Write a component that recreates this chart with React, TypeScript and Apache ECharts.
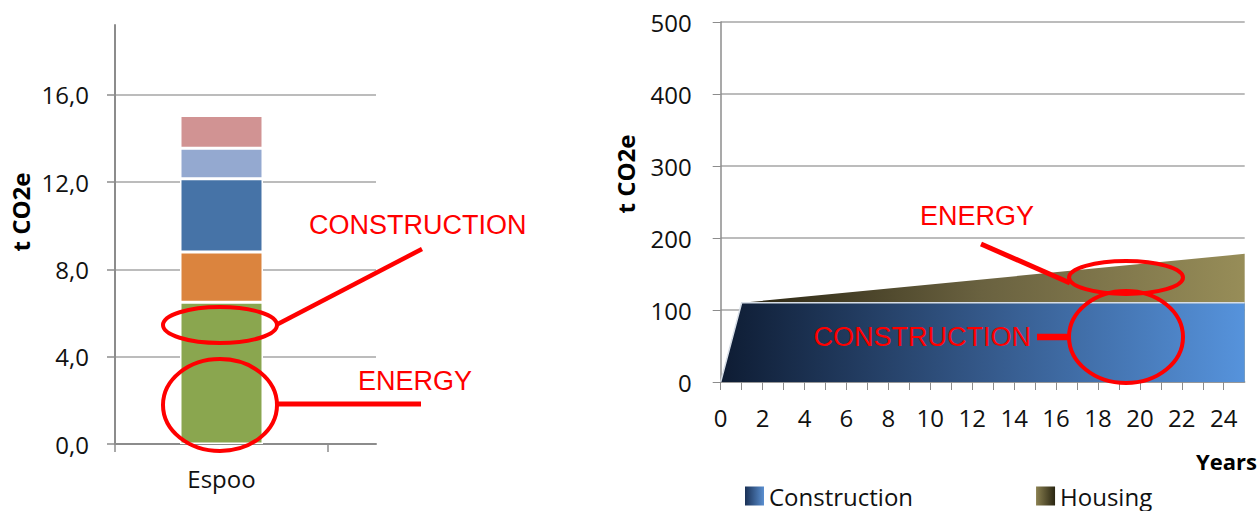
import React, { useEffect, useRef } from 'react';
import * as echarts from 'echarts';

// ---- Left chart data (stacked bar) ----
const barCategories = ['Espoo'];
const barSeriesNames = ['Energy', 'Part 2', 'Part 3', 'Part 4', 'Part 5'];
const barValues = [6.5, 2.3, 3.35, 1.4, 1.5];
const barColors = ['#8aa64f', '#db843e', '#4673a7', '#94a9d0', '#d19393'];
const leftTickValues = [0, 4, 8, 12, 16];

// ---- Right chart data (stacked area) ----
const years = [0, 1, 25];
const constructionValues = [0, 110, 110];
const housingValues = [0, 0, 68];
const rightLegend = ['Construction', 'Housing'];

const FONT = '"Open Sans", sans-serif';
const RED = '#ff0000';
const AXIS = '#8c8c8c';
const GRID = '#a6a6a6';

export default function App() {
  const ref = useRef<HTMLDivElement>(null);

  useEffect(() => {
    if (!ref.current) return;
    const chart = echarts.init(ref.current, undefined, { renderer: 'svg' });

    const constructionGrad = new echarts.graphic.LinearGradient(0, 0, 1, 0, [
      { offset: 0, color: '#0e1c33' },
      { offset: 0.5, color: '#345889' },
      { offset: 1, color: '#5693dc' },
    ]);
    const housingGrad = new echarts.graphic.LinearGradient(0, 0, 1, 0, [
      { offset: 0, color: '#241f0e' },
      { offset: 0.5, color: '#6a6240' },
      { offset: 1, color: '#978d58' },
    ]);
    const legendConstr = new echarts.graphic.LinearGradient(0, 0, 1, 0, [
      { offset: 0, color: '#1a3156' },
      { offset: 1, color: '#5a8fd0' },
    ]);
    const legendHousing = new echarts.graphic.LinearGradient(0, 0, 1, 0, [
      { offset: 0, color: '#8a8050' },
      { offset: 1, color: '#2a2612' },
    ]);

    const labelStyle = { fontFamily: FONT, fontSize: 24, color: '#111' };

    const barSeries = barValues.map((v, i) => ({
      name: barSeriesNames[i],
      type: 'bar',
      xAxisIndex: 0,
      yAxisIndex: 0,
      stack: 'total',
      barWidth: 83,
      data: [v],
      itemStyle: { color: barColors[i], borderColor: '#ffffff', borderWidth: 1.5 },
    }));

    // cumulative top of the housing band (housing stacked on construction)
    const housingTop = years.map((y, i) => [y, constructionValues[i] + housingValues[i]]);

    const option: any = {
      animation: false,
      backgroundColor: '#ffffff',
      grid: [
        { left: 115, top: 25, width: 213, height: 419 },
        { left: 328, top: 25, width: 48, height: 419 },
        { left: 720.7, top: 22, width: 524, height: 360 },
      ],
      legend: {
        data: [
          { name: rightLegend[0], itemStyle: { color: legendConstr } },
          { name: rightLegend[1], itemStyle: { color: legendHousing } },
        ],
        icon: 'rect',
        itemWidth: 19,
        itemHeight: 19,
        itemGap: 123,
        left: 745,
        top: 484,
        padding: 0,
        textStyle: { fontFamily: FONT, fontSize: 24, color: '#111' },
      },
      xAxis: [
        {
          type: 'category',
          gridIndex: 0,
          data: barCategories,
          axisLine: { show: true, lineStyle: { color: AXIS, width: 2 } },
          axisTick: { show: true, length: 8, lineStyle: { color: AXIS, width: 1.5 } },
          axisLabel: { ...labelStyle, margin: 22 },
        },
        {
          type: 'category',
          gridIndex: 1,
          data: [''],
          axisLine: { show: true, lineStyle: { color: AXIS, width: 2 } },
          axisTick: { show: false },
          axisLabel: { show: false },
        },
        {
          type: 'value',
          gridIndex: 2,
          min: 0,
          max: 25,
          interval: 1,
          axisLine: { show: true, lineStyle: { color: AXIS, width: 1.5 } },
          axisTick: { show: true, length: 8, lineStyle: { color: AXIS, width: 1 } },
          splitLine: { show: false },
          axisLabel: {
            ...labelStyle,
            margin: 23,
            showMaxLabel: false,
            formatter: (v: number) => (v % 2 === 0 ? String(v) : ''),
          },
        },
      ],
      yAxis: [
        {
          type: 'value',
          gridIndex: 0,
          min: 0,
          max: 19.2,
          interval: 4,
          axisLine: { show: true, lineStyle: { color: AXIS, width: 2 } },
          axisTick: { show: true, length: 8, customValues: leftTickValues, lineStyle: { color: AXIS, width: 1.5 } },
          axisLabel: {
            ...labelStyle,
            margin: 26,
            customValues: leftTickValues,
            formatter: (v: number) => v.toFixed(1).replace('.', ','),
          },
          splitLine: { show: true, lineStyle: { color: GRID, width: 1.5 } },
        },
        {
          type: 'value',
          gridIndex: 1,
          min: 0,
          max: 19.2,
          interval: 4,
          axisLine: { show: false },
          axisTick: { show: false },
          axisLabel: { show: false },
          splitLine: { show: true, showMaxLine: false, lineStyle: { color: GRID, width: 1.5 } },
        },
        {
          type: 'value',
          gridIndex: 2,
          min: 0,
          max: 500,
          interval: 100,
          axisLine: { show: true, lineStyle: { color: AXIS, width: 1.5 } },
          axisTick: { show: true, length: 8, lineStyle: { color: AXIS, width: 1 } },
          axisLabel: { ...labelStyle, margin: 29 },
          splitLine: { show: true, lineStyle: { color: GRID, width: 1.5 } },
        },
      ],
      series: [
        ...barSeries,
        {
          name: rightLegend[1],
          type: 'line',
          xAxisIndex: 2,
          yAxisIndex: 2,
          symbol: 'none',
          data: housingTop,
          lineStyle: { width: 0 },
          itemStyle: { color: '#7a7048' },
          areaStyle: { color: housingGrad, opacity: 1 },
          z: 2,
        },
        {
          name: rightLegend[0],
          type: 'line',
          xAxisIndex: 2,
          yAxisIndex: 2,
          symbol: 'none',
          data: years.map((y, i) => [y, constructionValues[i]]),
          lineStyle: { color: '#d6dde6', width: 1.5 },
          itemStyle: { color: '#4a7fc0' },
          areaStyle: { color: constructionGrad, opacity: 1 },
          z: 3,
        },
      ],
      graphic: [
        // axis titles
        {
          type: 'text',
          x: 20,
          y: 212,
          rotation: Math.PI / 2,
          style: { text: 't CO2e', font: `bold 24px ${FONT}`, fill: '#000', align: 'center', verticalAlign: 'middle' },
        },
        {
          type: 'text',
          x: 625,
          y: 174,
          rotation: Math.PI / 2,
          style: { text: 't CO2e', font: `bold 24px ${FONT}`, fill: '#000', align: 'center', verticalAlign: 'middle' },
        },
        {
          type: 'text',
          x: 1257,
          y: 461,
          style: { text: 'Years', font: `bold 22px ${FONT}`, fill: '#000', align: 'right', verticalAlign: 'middle' },
        },
        // left annotations
        {
          type: 'text',
          x: 309,
          y: 225,
          style: { text: 'CONSTRUCTION', font: '27px "Liberation Sans", Arial, sans-serif', fill: RED, align: 'left', verticalAlign: 'middle' },
        },
        {
          type: 'text',
          x: 358,
          y: 381,
          style: { text: 'ENERGY', font: '27px "Liberation Sans", Arial, sans-serif', fill: RED, align: 'left', verticalAlign: 'middle' },
        },
        { type: 'ellipse', shape: { cx: 220, cy: 325, rx: 57, ry: 18 }, style: { fill: 'none', stroke: RED, lineWidth: 4 }, z: 100 },
        { type: 'ellipse', shape: { cx: 220, cy: 405, rx: 57, ry: 46 }, style: { fill: 'none', stroke: RED, lineWidth: 4 }, z: 100 },
        { type: 'line', shape: { x1: 276, y1: 325, x2: 422, y2: 249 }, style: { stroke: RED, lineWidth: 4.5 }, z: 100 },
        { type: 'line', shape: { x1: 276, y1: 404, x2: 421, y2: 404 }, style: { stroke: RED, lineWidth: 5 }, z: 100 },
        // right annotations
        {
          type: 'text',
          x: 920,
          y: 216,
          style: { text: 'ENERGY', font: '27px "Liberation Sans", Arial, sans-serif', fill: RED, align: 'left', verticalAlign: 'middle' },
        },
        {
          type: 'text',
          x: 1031,
          y: 337,
          style: { text: 'CONSTRUCTION', font: '27px "Liberation Sans", Arial, sans-serif', fill: RED, align: 'right', verticalAlign: 'middle' },
          z: 100,
        },
        { type: 'ellipse', shape: { cx: 1126, cy: 277.5, rx: 57, ry: 16.5 }, style: { fill: 'none', stroke: RED, lineWidth: 4 }, z: 100 },
        { type: 'ellipse', shape: { cx: 1126, cy: 337, rx: 57, ry: 46 }, style: { fill: 'none', stroke: RED, lineWidth: 4 }, z: 100 },
        { type: 'line', shape: { x1: 981, y1: 244, x2: 1070, y2: 283 }, style: { stroke: RED, lineWidth: 5 }, z: 100 },
        { type: 'line', shape: { x1: 1037, y1: 337, x2: 1070, y2: 337 }, style: { stroke: RED, lineWidth: 6.5 }, z: 100 },
      ],
    };

    chart.setOption(option);
    return () => chart.dispose();
  }, []);

  return (
    <div
      ref={ref}
      style={{ position: 'absolute', left: 0, top: 0, width: 1259, height: 511, background: '#fff' }}
    />
  );
}
